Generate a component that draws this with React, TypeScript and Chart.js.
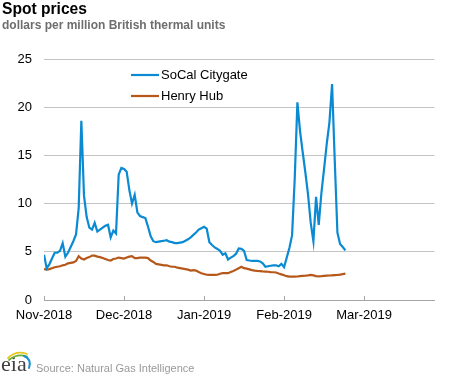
import React, { useEffect, useRef } from "react";
import { Chart, registerables } from "chart.js";

Chart.register(...registerables);

// Daily index 0 = 1-Nov-2018
const tickLabels = ["Nov-2018", "Dec-2018", "Jan-2019", "Feb-2019", "Mar-2019"];
const tickIndices = [0, 30, 60, 90, 120];
const axisEnd = 146.4;

const yTicks = [0, 5, 10, 15, 20, 25];

const seriesNames = ["SoCal Citygate", "Henry Hub"];

const socal = [
  4.7, 3.3, 3.7, 4.3, 4.9, 4.9, 5.1, 5.9, 4.5, 4.9,
  5.5, 6.1, 6.8, 9.5, 18.6, 10.8, 8.6, 7.5, 7.3, 8.0,
  7.1, 7.3, 7.5, 7.7, 7.8, 6.5, 7.2, 6.9, 13.0, 13.7,
  13.6, 13.3, 11.4, 10.0, 10.9, 9.1, 8.7, 8.6, 8.5, 7.6,
  6.6, 6.1, 6.0, 6.05, 6.1, 6.15, 6.2, 6.05, 6.0, 5.9,
  5.9, 5.95, 6.0, 6.15, 6.3, 6.5, 6.75, 7.0, 7.3, 7.45,
  7.6, 7.4, 6.0, 5.7, 5.45, 5.3, 5.1, 4.7, 4.85, 4.2,
  4.4, 4.55, 4.8, 5.35, 5.3, 5.1, 4.15, 4.1, 4.05, 4.05,
  4.05, 4.0, 3.8, 3.45, 3.5, 3.55, 3.6, 3.6, 3.5, 3.75,
  3.4, 4.4, 5.4, 6.7, 12.6, 20.5, 17.5, 15.3, 13.2, 10.9,
  8.0, 6.1, 10.7, 7.8, 11.1, 13.6, 16.2, 18.4, 22.4, 14.5,
  7.0, 5.8, 5.5, 5.15,
];

const henryHub = [
  3.2, 3.15, 3.2, 3.3, 3.4, 3.45, 3.5, 3.6, 3.65, 3.8,
  3.85, 3.9, 4.05, 4.55, 4.3, 4.2, 4.35, 4.45, 4.6, 4.6,
  4.5, 4.45, 4.35, 4.25, 4.15, 4.1, 4.25, 4.3, 4.4, 4.35,
  4.3, 4.4, 4.5, 4.55, 4.35, 4.35, 4.4, 4.4, 4.4, 4.35,
  4.1, 3.95, 3.75, 3.7, 3.65, 3.6, 3.6, 3.5, 3.45, 3.45,
  3.35, 3.3, 3.25, 3.2, 3.15, 3.05, 3.1, 3.05, 2.9, 2.78,
  2.7, 2.62, 2.6, 2.6, 2.6, 2.62, 2.72, 2.78, 2.78, 2.78,
  2.9, 3.0, 3.15, 3.3, 3.45, 3.3, 3.25, 3.18, 3.1, 3.05,
  3.02, 3.0, 2.97, 2.95, 2.93, 2.9, 2.88, 2.85, 2.75, 2.66,
  2.57, 2.47, 2.42, 2.42, 2.42, 2.44, 2.48, 2.5, 2.52, 2.55,
  2.6, 2.55, 2.48, 2.45, 2.47, 2.5, 2.52, 2.54, 2.56, 2.58,
  2.6, 2.63, 2.68, 2.73,
];

const colors = ["#0a8ad2", "#b5581a"];
const FONT = "'Liberation Sans', Arial, sans-serif";

const overlayPlugin = {
  id: "overlay",
  afterDraw(chart: any) {
    const ctx = chart.ctx;
    const area = chart.chartArea;
    const xs = chart.scales.x;
    ctx.save();
    // inside tick marks on x axis
    ctx.strokeStyle = "#a6a6a6";
    ctx.lineWidth = 1;
    tickIndices.forEach((v) => {
      const px = Math.round(xs.getPixelForValue(v)) + 0.5;
      ctx.beginPath();
      ctx.moveTo(px, area.bottom - 4);
      ctx.lineTo(px, area.bottom);
      ctx.stroke();
    });
    // legend
    const lx = area.left + 87;
    const ly = [75, 96];
    seriesNames.forEach((name, i) => {
      ctx.strokeStyle = colors[i];
      ctx.lineWidth = 2.2;
      ctx.beginPath();
      ctx.moveTo(lx, ly[i]);
      ctx.lineTo(lx + 28, ly[i]);
      ctx.stroke();
      ctx.fillStyle = "#000";
      ctx.font = `13px ${FONT}`;
      ctx.textBaseline = "middle";
      ctx.textAlign = "left";
      ctx.fillText(name, lx + 30, ly[i]);
    });
    // titles
    ctx.textBaseline = "alphabetic";
    ctx.fillStyle = "#000";
    ctx.font = `bold 15.6px ${FONT}`;
    ctx.fillText("Spot prices", 2, 13.5);
    ctx.fillStyle = "#6e6e6e";
    ctx.font = `bold 12px ${FONT}`;
    ctx.fillText("dollars per million British thermal units", 2, 28.5);
    ctx.fillStyle = "#999";
    ctx.font = `11px ${FONT}`;
    ctx.fillText("Source: Natural Gas Intelligence", 36, 371.5);
    // eia logo
    ctx.fillStyle = "#404040";
    ctx.font = `22px 'Liberation Serif', 'Times New Roman', serif`;
    ctx.fillText("eia", 1, 371);
    ctx.lineCap = "round";
    ctx.strokeStyle = "#e8c51e";
    ctx.lineWidth = 1.8;
    ctx.beginPath();
    ctx.moveTo(8, 358);
    ctx.quadraticCurveTo(16, 350, 27, 354);
    ctx.stroke();
    ctx.strokeStyle = "#6cae3a";
    ctx.beginPath();
    ctx.moveTo(9, 360);
    ctx.quadraticCurveTo(17, 353, 27, 356.5);
    ctx.stroke();
    ctx.strokeStyle = "#1c8fd0";
    ctx.lineWidth = 2;
    ctx.beginPath();
    ctx.moveTo(24, 356);
    ctx.quadraticCurveTo(32, 359, 29, 368);
    ctx.stroke();
    ctx.restore();
  },
};

export default function App() {
  const ref = useRef<HTMLCanvasElement | null>(null);

  useEffect(() => {
    if (!ref.current) return;
    const chart = new Chart(ref.current, {
      type: "line",
      data: {
        datasets: [
          {
            label: seriesNames[0],
            data: socal.map((v, i) => ({ x: i, y: v })),
            borderColor: colors[0],
            borderWidth: 2.2,
            pointRadius: 0,
            tension: 0,
            fill: false,
          },
          {
            label: seriesNames[1],
            data: henryHub.map((v, i) => ({ x: i, y: v })),
            borderColor: colors[1],
            borderWidth: 2.2,
            pointRadius: 0,
            tension: 0,
            fill: false,
          },
        ],
      },
      options: {
        responsive: false,
        animation: false,
        events: [],
        layout: { padding: { left: 0, top: 59, right: 33.5, bottom: 0 } },
        plugins: {
          legend: { display: false },
          title: { display: false },
          tooltip: { enabled: false },
        },
        scales: {
          x: {
            type: "linear",
            min: 0,
            max: axisEnd,
            afterFit: (s: any) => {
              s.height = 78;
            },
            afterBuildTicks: (s: any) => {
              s.ticks = tickIndices.map((v) => ({ value: v }));
            },
            ticks: {
              autoSkip: false,
              maxRotation: 0,
              padding: 8,
              color: "#000",
              font: { size: 13, family: FONT },
              callback: (v: any) => {
                const k = tickIndices.indexOf(Number(v));
                return k >= 0 ? tickLabels[k] : "";
              },
            },
            grid: { display: false, drawTicks: false },
            border: { display: true, color: "#a6a6a6", width: 1 },
          },
          y: {
            min: 0,
            max: 25,
            afterFit: (s: any) => {
              s.width = 44;
            },
            afterBuildTicks: (s: any) => {
              s.ticks = yTicks.map((v) => ({ value: v }));
            },
            ticks: {
              padding: 12,
              color: "#000",
              font: { size: 13, family: FONT },
            },
            grid: { color: "#c4c4c4", lineWidth: 1, drawTicks: false },
            border: { display: false },
          },
        },
      },
      plugins: [overlayPlugin],
    });
    return () => chart.destroy();
  }, []);

  return (
    <div style={{ position: "absolute", left: 0, top: 0, width: 468, height: 378, background: "#fff" }}>
      <canvas ref={ref} width={468} height={378} style={{ width: 468, height: 378 }} />
    </div>
  );
}
